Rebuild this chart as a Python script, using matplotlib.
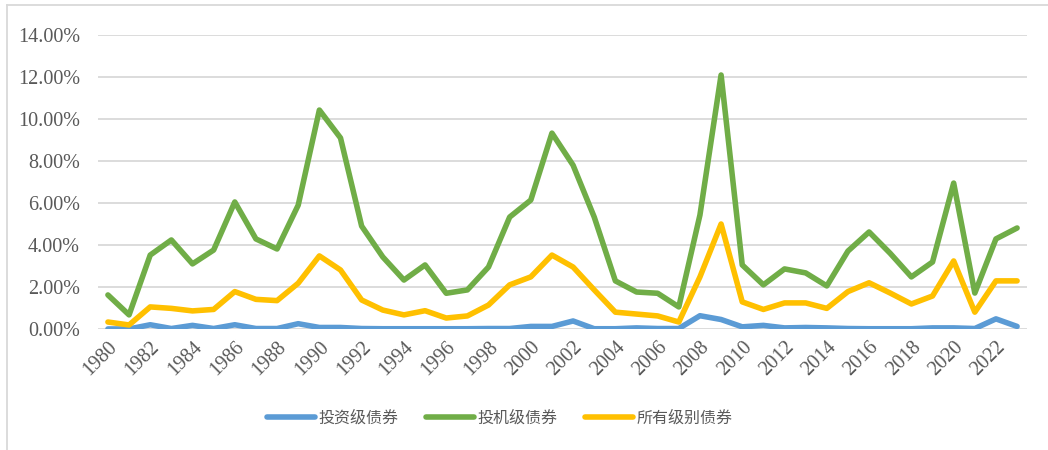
import numpy as np
import matplotlib.pyplot as plt
from matplotlib.lines import Line2D

plt.rcParams['font.family'] = ['Liberation Serif', 'Noto Sans CJK SC', 'DejaVu Sans']

years = list(range(1980, 2024))

# default rates (%)
invest_grade = [0.00, 0.00, 0.20, 0.02, 0.17, 0.02, 0.20, 0.02, 0.02, 0.25,
                0.07, 0.07, 0.02, 0.01, 0.01, 0.01, 0.01, 0.01, 0.02, 0.02,
                0.12, 0.12, 0.38, 0.01, 0.01, 0.05, 0.02, 0.02, 0.63, 0.45,
                0.10, 0.17, 0.05, 0.07, 0.05, 0.02, 0.01, 0.01, 0.01, 0.05,
                0.05, 0.02, 0.48, 0.12]
spec_grade = [1.62, 0.67, 3.52, 4.24, 3.10, 3.76, 6.05, 4.29, 3.81, 5.90,
              10.43, 9.10, 4.90, 3.43, 2.33, 3.05, 1.70, 1.86, 2.95, 5.33,
              6.14, 9.33, 7.80, 5.33, 2.29, 1.76, 1.70, 1.05, 5.43, 12.10,
              3.05, 2.10, 2.86, 2.67, 2.05, 3.71, 4.62, 3.60, 2.48, 3.19,
              6.95, 1.71, 4.29, 4.81]
all_grade = [0.33, 0.19, 1.05, 0.98, 0.86, 0.93, 1.78, 1.41, 1.35, 2.18,
             3.48, 2.81, 1.38, 0.90, 0.67, 0.87, 0.52, 0.62, 1.14, 2.10,
             2.48, 3.52, 2.95, 1.86, 0.80, 0.71, 0.62, 0.33, 2.48, 5.00,
             1.29, 0.93, 1.24, 1.24, 0.98, 1.78, 2.20, 1.71, 1.19, 1.57,
             3.24, 0.80, 2.29, 2.29]

names = ['投资级债券', '投机级债券', '所有级别债券']
colors = ['#5B9BD5', '#70AD47', '#FFC000']

fig = plt.figure(figsize=(10.48, 4.5), dpi=100)
ax = fig.add_axes([0.0935, 0.269, 0.8865, 0.653])

x = np.arange(len(years))
for vals, c in zip([invest_grade, spec_grade, all_grade], colors):
    ax.plot(x, np.array(vals) / 100, color=c, lw=4.0, solid_joinstyle='round',
            solid_capstyle='round')

ax.set_xlim(-0.47, len(years) - 0.53)
ax.set_ylim(0, 0.14)
ax.set_yticks(np.arange(0, 0.141, 0.02))
ax.set_yticklabels([f'{v * 100:.2f}%' for v in np.arange(0, 0.141, 0.02)])
ax.yaxis.grid(True, color='#D9D9D9', lw=1.3)
ax.set_axisbelow(True)
ax.set_xticks(x[::2])
ax.set_xticklabels([str(y) for y in years[::2]], rotation=45, ha='right',
                   rotation_mode='anchor')
ax.tick_params(axis='both', length=0, colors='#595959', labelsize=14.5)
ax.tick_params(axis='y', pad=13)
ax.tick_params(axis='x', pad=6)
for s in ax.spines.values():
    s.set_visible(False)

handles = [Line2D([], [], color=c, lw=4.0, solid_capstyle='round') for c in colors]
leg = fig.legend(handles, names, loc='center', bbox_to_anchor=(0.477, 0.071),
                 ncol=3, frameon=False, handlelength=3.0, columnspacing=1.7,
                 handletextpad=0.25,
                 prop={'family': ['Noto Sans CJK SC', 'DejaVu Sans'], 'size': 11.5})
for t in leg.get_texts():
    t.set_color('#595959')

# chart border (left and top visible in the original crop)
fig.add_artist(Line2D([7 / 1048, 7 / 1048], [0, 1 - 5 / 450], transform=fig.transFigure,
                      color='#D9D9D9', lw=1.3))
fig.add_artist(Line2D([7 / 1048, 1], [1 - 5 / 450, 1 - 5 / 450], transform=fig.transFigure,
                      color='#D9D9D9', lw=1.3))

fig.savefig('out.png', dpi=100)
